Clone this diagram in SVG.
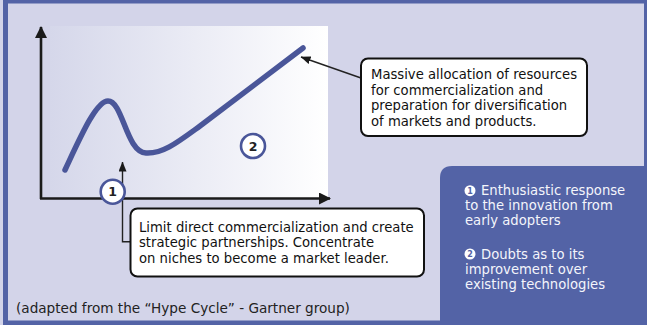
<svg xmlns="http://www.w3.org/2000/svg" width="647" height="325" viewBox="0 0 647 325">
<defs>
<linearGradient id="chartBg" x1="0" y1="0" x2="1" y2="0">
<stop offset="0" stop-color="#d5d7ea"/>
<stop offset="1" stop-color="#ffffff"/>
</linearGradient>
<marker id="arrowBig" viewBox="0 0 12 12" refX="11" refY="6" markerWidth="12" markerHeight="12" markerUnits="userSpaceOnUse" orient="auto">
<path d="M0,0 L12,6 L0,12 Z" fill="#1a1a1a"/>
</marker>
<marker id="arrowSmall" viewBox="0 0 10 8" refX="9.5" refY="4" markerWidth="10" markerHeight="8" markerUnits="userSpaceOnUse" orient="auto">
<path d="M0,0 L10,4 L0,8 Z" fill="#1a1a1a"/>
</marker>
<style>
.txt{font-family:"DejaVu Sans","Liberation Sans",sans-serif;font-size:13.2px;fill:#111}
.wtxt{font-family:"DejaVu Sans","Liberation Sans",sans-serif;font-size:13.2px;fill:#f4f5fb}
.box{fill:#ffffff;stroke:#111;stroke-width:2}
.num{fill:#ffffff;stroke:#4a5699;stroke-width:2.6}
.numtxt{font-family:"DejaVu Sans","Liberation Sans",sans-serif;font-size:12.5px;font-weight:bold;fill:#222;text-anchor:middle}
.lnum{font-family:"DejaVu Sans","Liberation Sans",sans-serif;font-size:8px;font-weight:bold;fill:#5363a6;text-anchor:middle}
.conn{fill:none;stroke:#222;stroke-width:1.4}
</style>
</defs>
<rect x="0" y="0" width="647" height="325" fill="#d3d4e9"/>
<g id="frame" fill="#5363a6">
<rect x="3" y="0" width="644" height="3.5"/>
<rect x="3" y="0" width="5" height="325"/>
<rect x="644" y="0" width="3" height="325"/>
<rect x="3" y="320.5" width="644" height="4.5"/>
</g>
<g id="chart">
<rect x="50" y="26" width="278" height="172.5" fill="url(#chartBg)"/>
<line x1="41" y1="199" x2="41" y2="27" stroke="#1a1a1a" stroke-width="2.6" marker-end="url(#arrowBig)"/>
<line x1="40" y1="198.5" x2="330" y2="198.5" stroke="#1a1a1a" stroke-width="2.6" marker-end="url(#arrowBig)"/>
<path d="M65,170 C80,138 96,101 108,101 C123,101 126,152 146,153 C163,154 178,142 200,126 L303,48" fill="none" stroke="#4a5699" stroke-width="5.5" stroke-linecap="round"/>
</g>
<g id="connectors">
<path class="conn" d="M130,241.7 L122.5,241.7 L122.5,162" marker-end="url(#arrowSmall)"/>
<line class="conn" x1="361" y1="78" x2="301" y2="57" marker-end="url(#arrowSmall)"/>
</g>
<g id="marker1">
<circle class="num" cx="112.7" cy="191.7" r="12"/>
<text class="numtxt" x="112.7" y="196.2">1</text>
</g>
<g id="marker2">
<circle class="num" cx="253" cy="146" r="12"/>
<text class="numtxt" x="253" y="150.5">2</text>
</g>
<g id="box-top">
<rect class="box" x="361" y="58.5" width="226" height="77.5" rx="7"/>
<text class="txt" x="371" y="79">Massive allocation of resources</text>
<text class="txt" x="371" y="94.5">for commercialization and</text>
<text class="txt" x="371" y="110">preparation for diversification</text>
<text class="txt" x="371" y="125.5">of markets and products.</text>
</g>
<g id="box-bottom">
<rect class="box" x="130.5" y="208.5" width="293.5" height="68" rx="7"/>
<text class="txt" x="139" y="231.5">Limit direct commercialization and create</text>
<text class="txt" x="139" y="247">strategic partnerships. Concentrate</text>
<text class="txt" x="139" y="262.5">on niches to become a market leader.</text>
</g>
<g id="legend">
<path d="M440,325 L440,178 Q440,166 452,166 L647,166 L647,325 Z" fill="#5363a6"/>
<circle cx="470" cy="190.7" r="5.5" fill="#ffffff"/>
<text class="lnum" x="470" y="193.6">1</text>
<text class="wtxt" x="481" y="195">Enthusiastic response</text>
<text class="wtxt" x="465" y="210">to the innovation from</text>
<text class="wtxt" x="465" y="225">early adopters</text>
<circle cx="470" cy="254" r="5.5" fill="#ffffff"/>
<text class="lnum" x="470" y="256.9">2</text>
<text class="wtxt" x="481" y="258.5">Doubts as to its</text>
<text class="wtxt" x="465" y="273.5">improvement over</text>
<text class="wtxt" x="465" y="288.5">existing technologies</text>
</g>
<text class="txt" x="16" y="312.5" style="font-size:13.6px;fill:#222">(adapted from the “Hype Cycle” - Gartner group)</text>
</svg>
